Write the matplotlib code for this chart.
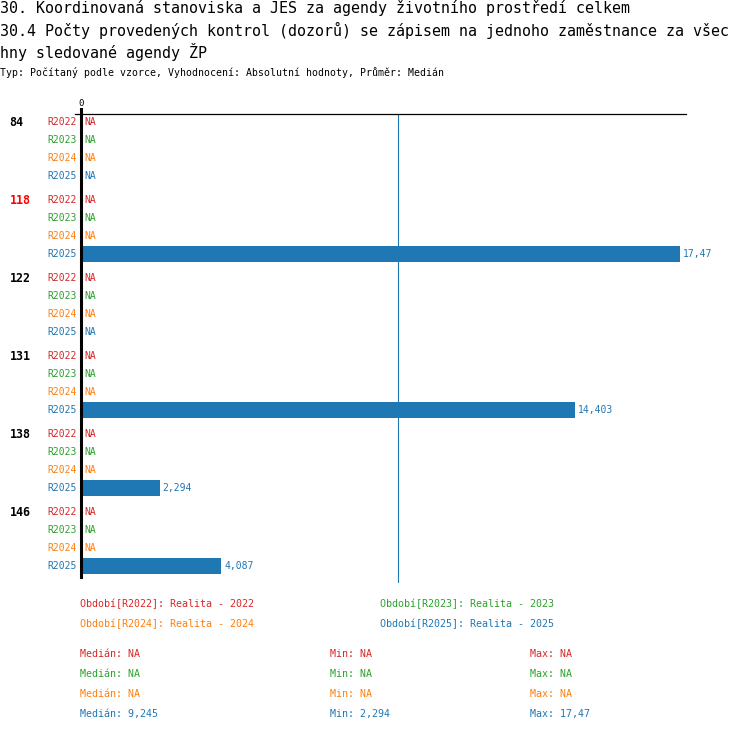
import matplotlib
matplotlib.use("Agg")
import matplotlib.pyplot as plt
from matplotlib.lines import Line2D
import numpy as np

# data
groups = ["84", "118", "122", "131", "138", "146"]
highlight = "118"
periods = ["R2022", "R2023", "R2024", "R2025"]
period_colors = ["#d62728", "#2ca02c", "#ff7f0e", "#1f77b4"]
period_names = ["Realita - 2022", "Realita - 2023", "Realita - 2024", "Realita - 2025"]
values = {
    "R2022": [None, None, None, None, None, None],
    "R2023": [None, None, None, None, None, None],
    "R2024": [None, None, None, None, None, None],
    "R2025": [None, 17.47, None, 14.403, 2.294, 4.087],
}

title_lines = [
    "30. Koordinovaná stanoviska a JES za agendy životního prostředí celkem",
    "30.4 Počty provedených kontrol (dozorů) se zápisem na jednoho zaměstnance za všec",
    "hny sledované agendy ŽP",
]
subtitle = "Typ: Počítaný podle vzorce, Vyhodnocení: Absolutní hodnoty, Průměr: Medián"

W, H = 750, 732
MONO = "DejaVu Sans Mono"


def fmt(v):
    if v is None:
        return "NA"
    s = f"{v:.3f}".rstrip("0").rstrip(".")
    return s.replace(".", ",")


def ftext(x, y, s, **kw):
    # place text by pixel position in the figure
    fig.text(x / W, 1 - y / H, s, family=MONO, va="center", **kw)


fig = plt.figure(figsize=(W / 100, H / 100), dpi=100)
ax_top, ax_bot, ax_l, ax_r = 114, 583, 81, 686
ax = fig.add_axes([ax_l / W, 1 - ax_bot / H, (ax_r - ax_l) / W, (ax_bot - ax_top) / H])

row_h, group_h, first = 18, 78, 122
all_vals = [v for p in periods for v in values[p] if v is not None]
xmax = max(all_vals) * 1.01
ax.set_xlim(0, xmax)
ax.set_ylim(ax_bot - first, ax_top - first)

for g, grp in enumerate(groups):
    for r, (p, c) in enumerate(zip(periods, period_colors)):
        y = g * group_h + r * row_h
        v = values[p][g]
        ax.annotate(p, (0, y), xytext=(-4, 0), textcoords="offset pixels",
                    ha="right", va="center", color=c, family=MONO, fontsize=7.05,
                    annotation_clip=False)
        if v is None:
            ax.annotate("NA", (0, y), xytext=(3, 0), textcoords="offset pixels",
                        ha="left", va="center", color=c, family=MONO, fontsize=7.05)
        else:
            ax.barh(y, v, height=16, color=c, left=0)
            ax.annotate(fmt(v), (v, y), xytext=(3, 0), textcoords="offset pixels",
                        ha="left", va="center", color=c, family=MONO, fontsize=7.05,
                        annotation_clip=False)
    ax.annotate(grp, (0, g * group_h), xytext=(9.5 - ax_l, 0), textcoords="offset pixels",
                ha="left", va="center", family=MONO, fontsize=8.4, fontweight="bold",
                color="red" if grp == highlight else "black", annotation_clip=False)

# median line of the last period
med = np.median([v for v in values["R2025"] if v is not None])
ax.axvline(med, color="#1f77b4", lw=0.8)

# axis lines
span = ax_bot - ax_top
ax.add_line(Line2D([-6 / (ax_r - ax_l), 1], [1, 1], transform=ax.transAxes,
                   color="black", lw=0.9, clip_on=False))
ax.add_line(Line2D([0, 0], [1 + 5 / span, 6 / span], transform=ax.transAxes,
                   color="black", lw=2.2, clip_on=False))
ax.annotate("0", (0, 1), xycoords=("data", "axes fraction"), xytext=(0, 11),
            textcoords="offset pixels", ha="center", va="center",
            family=MONO, fontsize=6.5)

for s in ax.spines.values():
    s.set_visible(False)
ax.set_xticks([])
ax.set_yticks([])

# titles
for i, line in enumerate(title_lines):
    ftext(0, 8 + 22 * i, line, fontsize=10.8, ha="left", color="black")
ftext(0, 73, subtitle, fontsize=7.1, ha="left", color="black")

# legend
leg_x = [80, 380]
for i, (p, c, n) in enumerate(zip(periods, period_colors, period_names)):
    ftext(leg_x[i % 2], 604 + 20 * (i // 2), f"Období[{p}]: {n}", fontsize=7.2,
          ha="left", color=c)

# stats per period
for i, (p, c) in enumerate(zip(periods, period_colors)):
    vals = [v for v in values[p] if v is not None]
    if vals:
        md, mn, mx = fmt(float(np.median(vals))), fmt(min(vals)), fmt(max(vals))
    else:
        md = mn = mx = "NA"
    y = 654 + 20 * i
    ftext(80, y, f"Medián: {md}", fontsize=7.2, ha="left", color=c)
    ftext(330, y, f"Min: {mn}", fontsize=7.2, ha="left", color=c)
    ftext(530, y, f"Max: {mx}", fontsize=7.2, ha="left", color=c)

fig.savefig("out.png", dpi=100, facecolor="white")
